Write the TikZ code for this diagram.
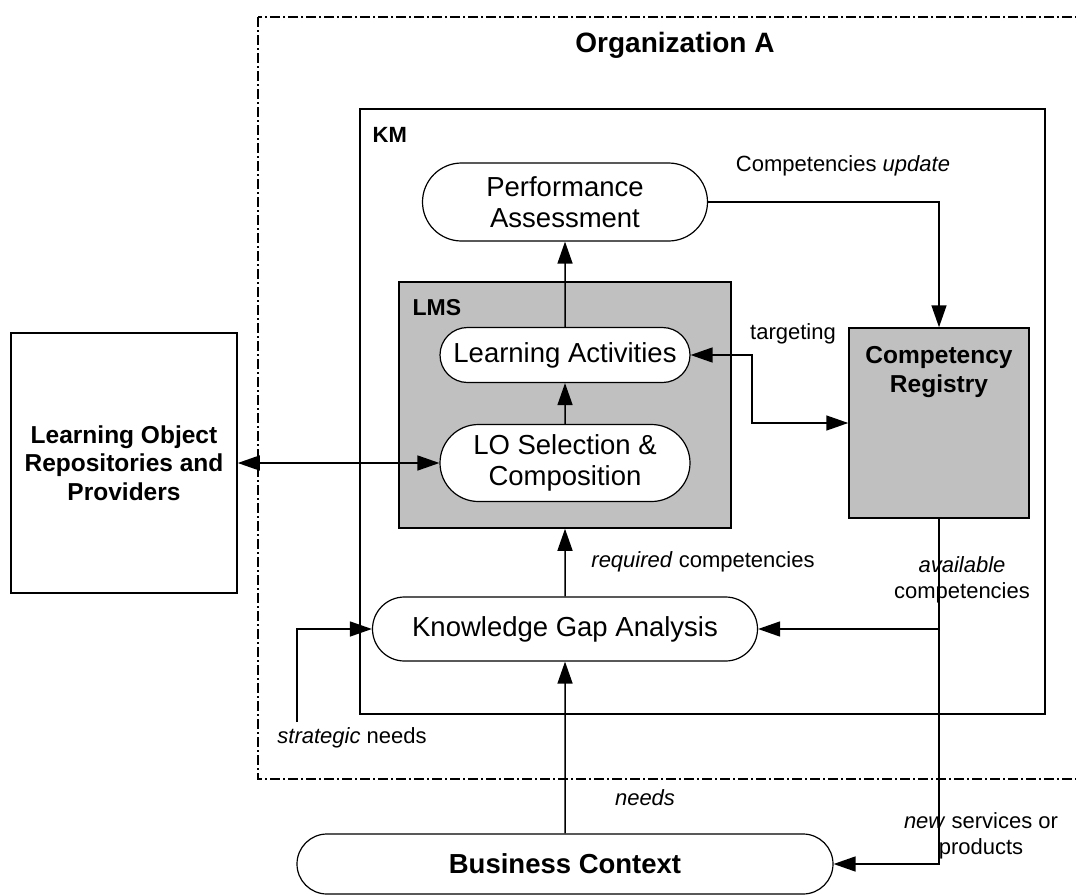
\documentclass[tikz,border=0pt]{standalone}
\usepackage{fontspec}
\setmainfont{Liberation Sans}
\usepackage{xcolor}
\definecolor{boxgray}{RGB}{192,192,192}
\usepackage{tikz}
\usetikzlibrary{arrows.meta}
\usetikzlibrary{shapes.misc}
\newcommand{\sizeactivity}{\fontsize{13.75}{15.5}\selectfont}
\newcommand{\sizenote}{\fontsize{11}{13}\selectfont}
\newcommand{\sizeplayer}{\fontsize{12.25}{14.2}\selectfont\bfseries}
\newcommand{\sizetag}{\fontsize{11}{13}\selectfont\bfseries}
\newcommand{\widthactivity}{125pt}
\tikzset{
    common/.style={draw, line width=0.6pt, inner sep=0pt},
    activity/.style={common, rounded rectangle, fill=white, align=center, font=\sizeactivity},
    area/.style={common, rectangle, line width=0.75pt},
    lms-area/.style={area, fill=boxgray},
    player/.style={area, align=center, font=\sizeplayer},
    tag/.style={anchor=north west, inner sep=0pt, font=\sizetag},
    note/.style={align=center, font=\sizenote, inner sep=0pt},
    tip/.style={Triangle[length=11pt, width=7.5pt]},
    flow/.style={line width=0.75pt, -{Triangle[length=11pt, width=7.5pt]}},
    two-way/.style={line width=0.75pt, {Triangle[length=11pt, width=7.5pt]}-{Triangle[length=11pt, width=7.5pt]}},
    org-line/.style={line width=0.75pt, dash pattern=on 5pt off 1.5pt on 1pt off 1.5pt}
}

\begin{document}
\begin{tikzpicture}[x=0.5pt, y=-0.5pt]
      \useasboundingbox (0,0) rectangle (1076,894);

      % organization boundary, open to the right
      \coordinate (org-nw) at (258,17);
      \coordinate (org-se) at (1082,779);
      \draw[org-line] (org-nw) rectangle (org-se);
      \node[font=\fontsize{14}{16}\selectfont\bfseries] (org) at (675,45) {Organization A};

      \path
          (702.5,411.5) node[area, minimum width=342.5pt, minimum height=302.5pt,
              label={[tag, xshift=6.5pt, yshift=-9.5pt]north west:KM}] (km) {}
          (565,405) node[lms-area, minimum width=166pt, minimum height=123pt,
              label={[tag, font=\fontsize{11.5}{13}\selectfont\bfseries, xshift=7pt, yshift=-9pt]north west:LMS}] (lms) {}
          (565,202) node[activity, minimum width=142.5pt, minimum height=39pt] (assess) {Performance\\Assessment}
          (565,355) node[activity, minimum width=\widthactivity, minimum height=27.5pt] (activities) {Learning Activities}
          (565,463) node[activity, minimum width=\widthactivity, minimum height=38.5pt] (selection) {LO Selection \&\\Composition}
          (565,629) node[activity, minimum width=192.5pt, minimum height=32pt] (gap) {Knowledge Gap Analysis}
          (565,864) node[activity, font=\fontsize{13.75}{15.5}\selectfont\bfseries, minimum width=268pt, minimum height=30pt] (business) {Business Context};

      \path
          (939,423) node[player, fill=boxgray, minimum width=90pt, minimum height=95pt,
              label={[anchor=north, inner sep=0pt, align=center, font=\sizeplayer, yshift=-9.5pt]north:Competency\\Registry}] (registry) {}
          (124,463) node[player, minimum width=113pt, minimum height=130pt] (repo) {Learning Object\\Repositories and\\Providers};

      \coordinate (bend) at (752,423);
      \coordinate (strategic) at (297,722);

      \draw[flow] (activities) -- (assess);
      \draw[flow] (selection) -- (activities);
      \draw[flow] (gap) -- (lms);
      \draw[flow] (assess.east) -| (registry.north);
      \draw[two-way] (activities.east) -| (bend) -- (registry.west);
      \draw[two-way] (repo.east) -- (selection.west);
      \draw[flow] (registry.south) |- (business.east);
      \draw[flow] (registry.south |- gap.east) -- (gap.east);
      \draw[flow] (business) -- (gap);
      \draw[flow] (strategic) |- (gap.west);

      \path
          (843,166) node[note] (update-note) {Competencies \textit{update}}
          (793,334) node[note] (targeting-note) {targeting}
          (703,562) node[note] (required-note) {\textit{required} competencies}
          (962,580) node[note] (available-note) {\textit{available}\\competencies}
          (981,836) node[note] (new-note) {\textit{new} services or\\products}
          (645,798) node[note] (needs-note) {\textit{needs}}
          (352,738) node[note] (strategic-note) {\textit{strategic} needs};
    \end{tikzpicture}
\end{document}
